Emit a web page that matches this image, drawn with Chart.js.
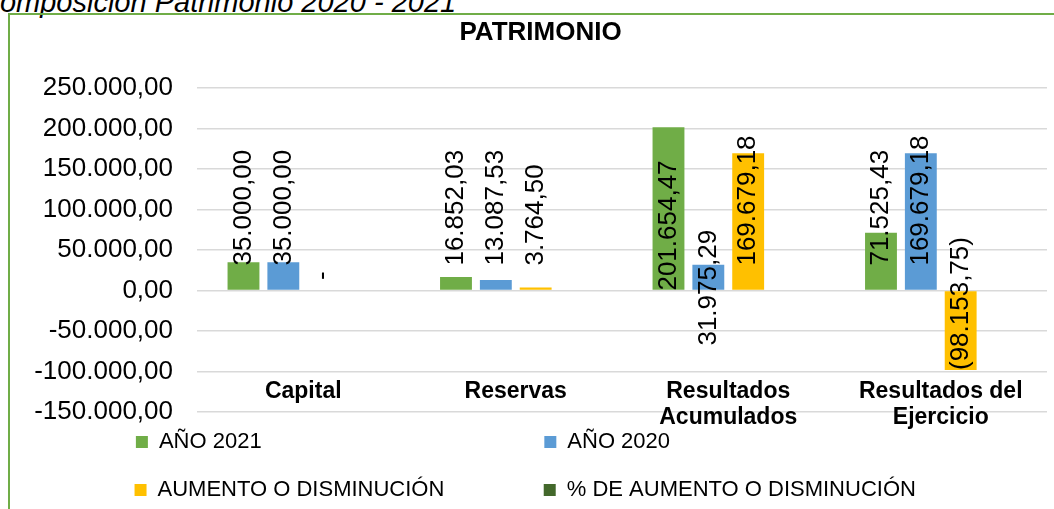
<!DOCTYPE html>
<html>
<head>
<meta charset="utf-8">
<script src="https://cdn.jsdelivr.net/npm/chart.js@4.4.1/dist/chart.umd.min.js"></script>
<style>
  html, body { margin: 0; padding: 0; background: #fff; overflow: hidden; }
  body { width: 1054px; height: 509px; position: relative; }
  .caption {
    position: absolute; left: -21px; top: -12px; white-space: nowrap;
    font: italic 29px/29px 'Liberation Sans', Arial, sans-serif; color: #000;
  }
  .frame {
    position: absolute; left: 8px; top: 13px; width: 1200px; height: 600px;
    border: 2px solid #70ad47;
  }
  #chart { position: absolute; left: 10px; top: 15px; }
</style>
</head>
<body>
<div class="caption">Composición Patrimonio 2020 - 2021</div>
<div class="frame"></div>
<canvas id="chart" width="1044" height="494"></canvas>
<script>
const categories = ['Capital', 'Reservas', ['Resultados', 'Acumulados'], ['Resultados del', 'Ejercicio']];
const seriesNames = ['AÑO 2021', 'AÑO 2020', 'AUMENTO O DISMINUCIÓN', '% DE AUMENTO O DISMINUCIÓN'];
const anio2021 = [35000.00, 16852.03, 201654.47, 71525.43];
const anio2020 = [35000.00, 13087.53, 31975.29, 169679.18];
const aumento = [0, 3764.50, 169679.18, -98153.75];
const porcentaje = [0, 0.29, 5.31, -0.58];
const yMin = -150000;
const yMax = 250000;
const yStep = 50000;

const colors = ['#70ad47', '#5b9bd5', '#ffc000', '#43682b'];
const FONT = "'Liberation Sans', Arial, sans-serif";

// where a few labels were moved by hand in the original
const labelPlacement = { '0-2': 'base', '1-2': 'below' };

function miles(n) {
  return n.replace(/\B(?=(\d{3})+(?!\d))/g, '.');
}
function fmtTick(v) {
  const p = Math.abs(v).toFixed(2).split('.');
  return (v < 0 ? '-' : '') + miles(p[0]) + ',' + p[1];
}
function fmtLabel(v) {
  if (v === 0) return '-';
  const p = Math.abs(v).toFixed(2).split('.');
  const t = miles(p[0]) + ',' + p[1];
  return v < 0 ? '(' + t + ')' : t;
}

// legend: pad texts so the four items sit in two columns
const legendFontSize = 22;
const legendBox = 12;
const legendPad = 26;
const colText = [363, 382];
const measure = document.createElement('canvas').getContext('2d');
measure.font = 'normal ' + legendFontSize + 'px ' + FONT;
function padText(t, w) {
  while (measure.measureText(t + ' ').width <= w) t += ' ';
  return t;
}

const barLabels = {
  id: 'barLabels',
  afterDatasetsDraw(chart) {
    const ctx = chart.ctx;
    const zeroY = chart.scales.y.getPixelForValue(0);
    ctx.save();
    ctx.font = '26px ' + FONT;
    ctx.fillStyle = '#000';
    ctx.textBaseline = 'middle';
    [0, 1, 2].forEach(di => {
      chart.getDatasetMeta(di).data.forEach((bar, i) => {
        const v = chart.data.datasets[di].data[i];
        const mode = labelPlacement[di + '-' + i];
        let start = zeroY - 25, align = 'left';
        if (v === 0) { start = zeroY - 15; align = 'center'; }
        else if (v < 0) start = bar.y;
        else if (mode === 'base') start = zeroY;
        else if (mode === 'below') start = zeroY + 55;
        ctx.save();
        ctx.translate(bar.x, start);
        ctx.rotate(-Math.PI / 2);
        ctx.textAlign = align;
        ctx.fillText(fmtLabel(v), 0, 0);
        ctx.restore();
      });
    });
    ctx.restore();
  }
};

const seriesData = [anio2021, anio2020, aumento, porcentaje];

new Chart(document.getElementById('chart'), {
  type: 'bar',
  data: {
    labels: categories,
    datasets: seriesNames.map((name, k) => ({
      label: name,
      data: seriesData[k],
      // the % series is far too small to show on this axis
      backgroundColor: k === 3 ? 'rgba(0,0,0,0)' : colors[k],
      borderWidth: 0,
      inflateAmount: 0,
      barPercentage: 0.8,
      categoryPercentage: 0.75
    }))
  },
  options: {
    responsive: false,
    animation: false,
    layout: { padding: { left: 24, right: 7, top: 0, bottom: -2 } },
    scales: {
      x: {
        position: { y: -100000 },
        grid: { display: false, drawTicks: false },
        border: { display: false },
        ticks: {
          color: '#000',
          font: { family: FONT, size: 23, weight: 'bold', lineHeight: 1.13 },
          padding: 7,
          autoSkip: false,
          maxRotation: 0
        }
      },
      y: {
        min: yMin,
        max: yMax,
        grid: { color: '#d9d9d9', lineWidth: 1.5, drawTicks: false },
        border: { display: false },
        ticks: {
          stepSize: yStep,
          color: '#000',
          padding: 24,
          font: { family: FONT, size: 26 },
          callback: v => fmtTick(v)
        },
        afterFit: s => { s.width = 163; }
      }
    },
    plugins: {
      tooltip: { enabled: false },
      title: {
        display: true,
        text: 'PATRIMONIO',
        color: '#000',
        font: { family: FONT, size: 26, weight: 'bold' },
        padding: { top: 2, bottom: 40 }
      },
      legend: {
        position: 'bottom',
        title: { display: true, text: '', font: { size: 10 }, padding: { top: 0, bottom: -19 } },
        labels: {
          color: '#000',
          boxWidth: legendBox,
          boxHeight: legendBox,
          padding: legendPad,
          font: { family: FONT, size: legendFontSize },
          generateLabels: chart => {
            const items = Chart.defaults.plugins.legend.labels.generateLabels(chart);
            items.forEach((it, i) => {
              it.text = padText(it.text, colText[i % 2]);
              it.fillStyle = colors[i];
            });
            return items;
          }
        }
      }
    }
  },
  plugins: [barLabels]
});
</script>
</body>
</html>
